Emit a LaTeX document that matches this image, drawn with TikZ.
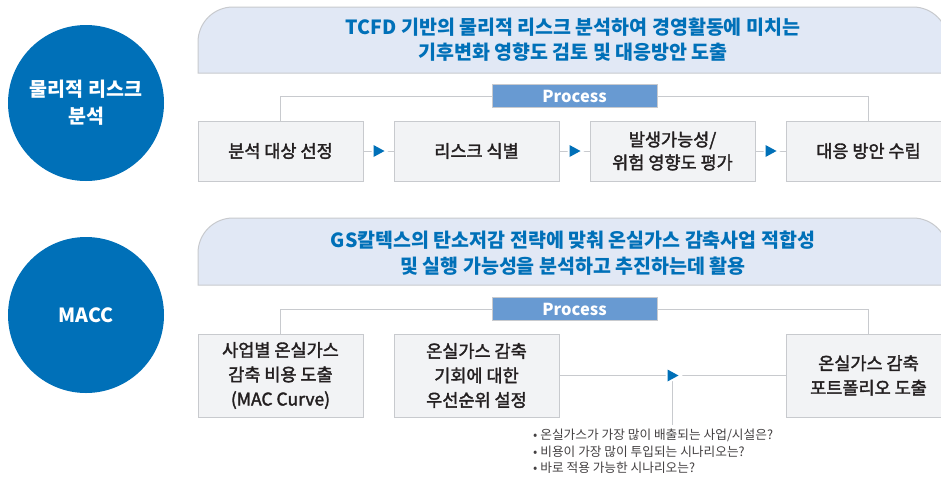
\documentclass[tikz,border=0pt]{standalone}
\usepackage{fontspec}
\setmainfont{Noto Sans CJK KR}
\newfontfamily\medfont[FakeBold=2]{Noto Sans CJK KR}
\usepackage{tikz}
\usetikzlibrary{positioning,
				calc}
\definecolor{gsblue}{RGB}{0,112,184}
\definecolor{headfill}{RGB}{225,232,245}
\definecolor{procfill}{RGB}{104,154,210}
\definecolor{boxfill}{RGB}{242,243,245}
\definecolor{edgegray}{RGB}{200,202,206}
\definecolor{txtdark}{RGB}{35,31,32}
\tikzset{
	topic/.style={circle, fill=gsblue, minimum size=156pt, inner sep=0pt, text=white, align=center, font=\fontsize{19.5}{27}\selectfont\bfseries},
	headtext/.style={text=gsblue, align=center, font=\fontsize{19.5}{25.5}\selectfont\bfseries},
	stepbox/.style={draw=edgegray, fill=boxfill, line width=1pt, minimum width=165pt, minimum height=60pt, inner sep=0pt, align=center, text=txtdark, font=\fontsize{17.5}{23}\medfont},
	tallbox/.style={stepbox, minimum height=83pt, font=\fontsize{17.5}{24.5}\medfont},
	proclabel/.style={draw=edgegray, fill=procfill, line width=1pt, minimum width=165pt, minimum height=23pt, inner sep=0pt, text=white, font=\fontsize{16.5}{16.5}\selectfont\bfseries},
	link/.style={draw=edgegray, line width=1pt},
	tip/.pic={\draw[white, line width=4pt, line join=miter] (-5,-6) -- (6,0) -- (-5,6) -- cycle;
		\fill[gsblue] (-5,-6) -- (6,0) -- (-5,6) -- cycle;}
}
\begin{document}
\begin{tikzpicture}[x=1pt, y=-1pt]
	\clip (0,0) rectangle (941,480);
	\fill[white] (0,0) rectangle (941,480);
	% topics
	\node[topic] (t1) at (86,103) {물리적 리스크\\분석};
	\node[topic] (t2) at (86,315) {MACC};
	% headings
	\draw[edgegray, fill=headfill, line width=1pt] (198,73) -- (198,42) arc[start angle=180, end angle=270, radius=35]
		-- (913,7) arc[start angle=270, end angle=360, radius=35] -- (948,73) -- cycle;
	\node[headtext] (h1) at (573,39.5) {TCFD 기반의 물리적 리스크 분석하여 경영활동에 미치는\\기후변화 영향도 검토 및 대응방안 도출};
	\draw[edgegray, fill=headfill, line width=1pt] (198,285) -- (198,253) arc[start angle=180, end angle=270, radius=35]
		-- (913,218) arc[start angle=270, end angle=360, radius=35] -- (948,285) -- cycle;
	\node[headtext] (h2) at (573,253) {GS칼텍스의 탄소저감 전략에 맞춰 온실가스 감축사업 적합성\\및 실행 가능성을 분석하고 추진하는데 활용};
	% process 1
	\node[stepbox] (a1) at (280.5,151) {분석 대상 선정};
	\node[stepbox, right=30pt of a1] (a2) {리스크 식별};
	\node[stepbox, right=30pt of a2] (a3) {발생가능성/\\위험 영향도 평가};
	\node[stepbox, right=30pt of a3] (a4) {대응 방안 수립};
	\coordinate (r1) at (0,96);
	\draw[link] (a1.north) |- (a4.north |- r1) -- (a4.north);
	\node[proclabel] (p1) at (574.5,96) {Process};
	\foreach \i/\j in {1/2,2/3,3/4}{
		\draw[link] (a\i.east) -- (a\j.west) coordinate[midway] (am\i);
		\pic at (am\i) {tip};
	}
	% process 2
	\node[tallbox] (b1) at (280.5,375.5) {사업별 온실가스\\감축 비용 도출\\(MAC Curve)};
	\node[tallbox, right=30pt of b1] (b2) {온실가스 감축\\기회에 대한\\우선순위 설정};
	\node[tallbox] (b4) at (a4 |- b1) {온실가스 감축\\포트폴리오 도출};
	\coordinate (r2) at (0,309);
	\draw[link] (b1.north) |- (b4.north |- r2) -- (b4.north);
	\node[proclabel] (p2) at (574.5,309) {Process};
	\draw[link] (b2.east) -- (b4.west) coordinate[midway] (bm);
	\coordinate (q) at ($(bm)+(0,49)$);
	\draw[link] (bm) -- (q);
	\pic at (bm) {tip};
	\node[anchor=north west, align=left, text=txtdark!85, font=\fontsize{12.7}{16.5}\selectfont, inner sep=0pt] (notes) at (533,429)
		{•\ 온실가스가 가장 많이 배출되는 사업/시설은?\\•\ 비용이 가장 많이 투입되는 시나리오는?\\•\ 바로 적용 가능한 시나리오는?};
\end{tikzpicture}
\end{document}
